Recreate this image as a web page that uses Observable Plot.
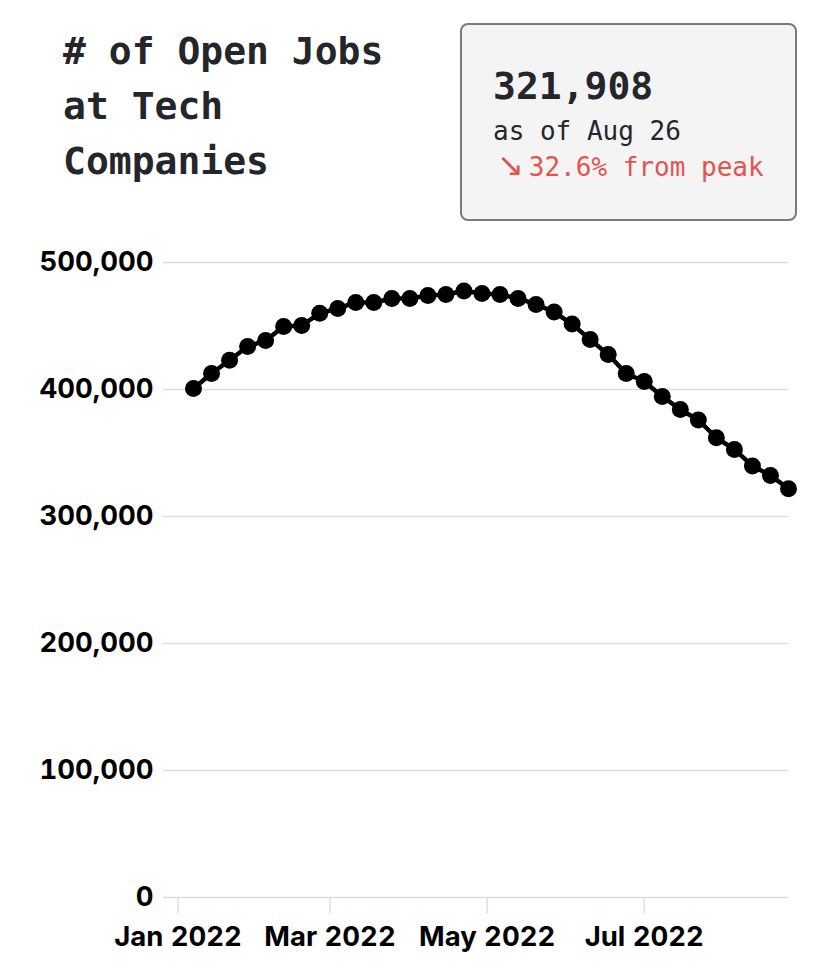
<!DOCTYPE html>
<html>
<head>
<meta charset="utf-8">
<script src="https://cdn.jsdelivr.net/npm/d3@7"></script>
<script src="https://cdn.jsdelivr.net/npm/@observablehq/plot@0.6"></script>
<style>
  html, body { margin: 0; padding: 0; background: #fff; }
  #wrap { width: 824px; height: 976px; position: relative; overflow: hidden; }
  #header { position: relative; width: 824px; height: 235px; }
  #title {
    position: absolute; left: 63px; top: 24px; margin: 0;
    font-family: "DejaVu Sans Mono", monospace; font-weight: 700;
    font-size: 38px; line-height: 55px; color: #24262b; white-space: pre;
  }
  #box {
    position: absolute; left: 460px; top: 23px; width: 333px; height: 194px;
    background: #f4f4f4; border: 2px solid #777a82; border-radius: 8px;
  }
  .mono { position: absolute; left: 31px; font-family: "DejaVu Sans Mono", monospace; white-space: pre; }
  #big { top: 39px; font-size: 38px; font-weight: 700; color: #24262b; }
  #asof { top: 91px; font-size: 26px; color: #24262b; }
  #chg { top: 124px; left: 35px; font-size: 26px; color: #e5534f; }
  #chg .arrow { font-family: "DejaVu Sans", sans-serif; font-size: 32px; font-weight: 400; line-height: 1; margin-right: 5px; }
  #chart svg { display: block; }
</style>
</head>
<body>
<div id="wrap">
  <div id="header">
    <div id="title"># of Open Jobs
at Tech
Companies</div>
    <div id="box">
      <div class="mono" id="big">321,908</div>
      <div class="mono" id="asof">as of Aug 26</div>
      <div class="mono" id="chg"><span class="arrow">↘</span>32.6% from peak</div>
    </div>
  </div>
  <div id="chart"></div>
</div>
<script>
// Weekly dates (Fridays) and number of open jobs
const dates = [
  "2022-01-07","2022-01-14","2022-01-21","2022-01-28",
  "2022-02-04","2022-02-11","2022-02-18","2022-02-25",
  "2022-03-04","2022-03-11","2022-03-18","2022-03-25",
  "2022-04-01","2022-04-08","2022-04-15","2022-04-22","2022-04-29",
  "2022-05-06","2022-05-13","2022-05-20","2022-05-27",
  "2022-06-03","2022-06-10","2022-06-17","2022-06-24",
  "2022-07-01","2022-07-08","2022-07-15","2022-07-22","2022-07-29",
  "2022-08-05","2022-08-12","2022-08-19","2022-08-26"
];
const openJobs = [
  400800, 412600, 423000, 433900,
  438600, 449600, 450400, 460000,
  463800, 468500, 468500, 471700,
  471700, 474000, 474800, 477600, 475600,
  474800, 471700, 467000, 461000,
  451500, 439400, 427600, 412600,
  406300, 394500, 384300, 376000, 362000,
  352800, 339800, 332300, 321908
];
const yTicks = [0, 100000, 200000, 300000, 400000, 500000];
const xTicks = ["2022-01-01", "2022-03-01", "2022-05-01", "2022-07-01"];
const xTickFormat = "%b %Y";

const data = dates.map((d, i) => ({date: new Date(d), value: openJobs[i]}));

const chart = Plot.plot({
  width: 824,
  height: 741,
  marginTop: 27,
  marginBottom: 79,
  marginLeft: 163,
  marginRight: 36,
  style: {
    fontFamily: "Inter, 'Noto Sans', sans-serif",
    fontSize: "27.5px",
    fontWeight: 700,
    color: "#000",
    background: "transparent",
    overflow: "visible"
  },
  x: {type: "utc", domain: [new Date(dates[0]), new Date(dates[dates.length - 1])], insetLeft: 30},
  y: {domain: [0, 500000]},
  marks: [
    Plot.gridY(yTicks, {stroke: "#dedede", strokeOpacity: 1, strokeWidth: 1.5}),
    Plot.axisY(yTicks, {tickSize: 0, tickPadding: 10, tickFormat: d3.format(","), label: null}),
    Plot.axisX(xTicks.map(d => new Date(d)), {
      tickSize: 16, tickPadding: 13, stroke: "#dedede", strokeWidth: 1.5,
      tickFormat: d3.utcFormat(xTickFormat), label: null
    }),
    Plot.line(data, {x: "date", y: "value", stroke: "black", strokeWidth: 4.5}),
    Plot.dot(data, {x: "date", y: "value", r: 8.5, fill: "black"})
  ]
});
document.getElementById("chart").appendChild(chart);
</script>
</body>
</html>
